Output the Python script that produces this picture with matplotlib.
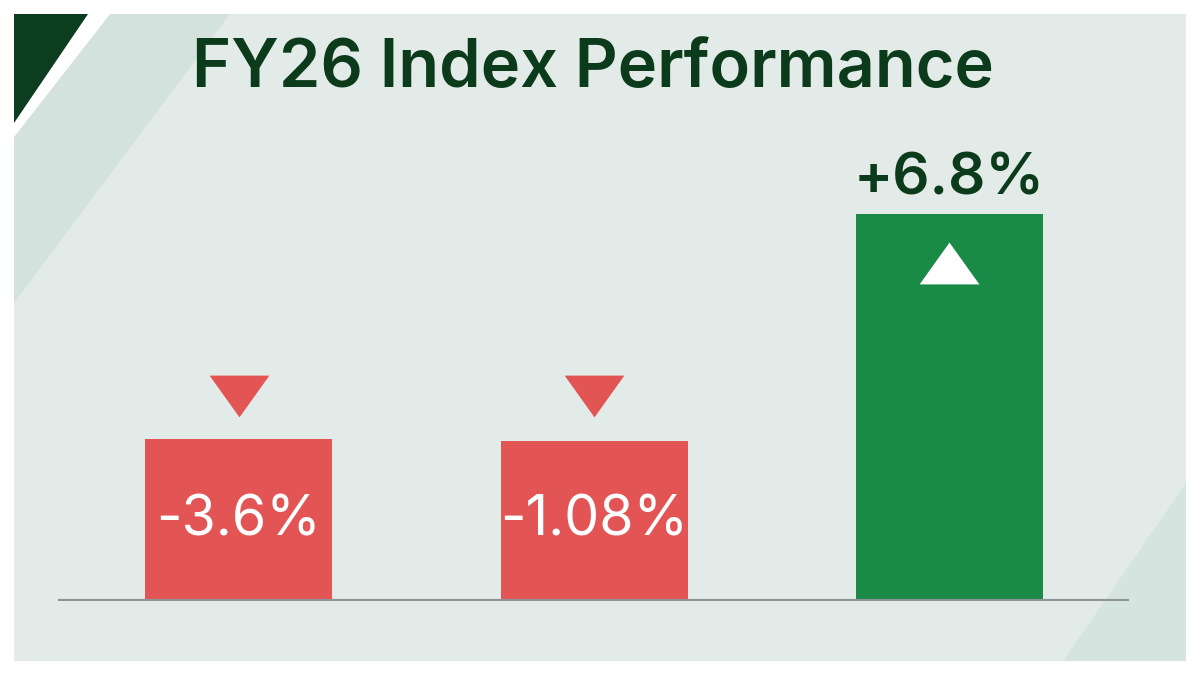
import numpy as np
import matplotlib.pyplot as plt
from matplotlib.patches import Polygon
from matplotlib.path import Path

# data
labels = ["-3.6%", "-1.08%", "+6.8%"]
values = [-3.6, -1.08, 6.8]
bar_heights = [1.62, 1.60, 3.87]   # drawn heights
title = "FY26 Index Performance"

red = "#e35555"
green = "#1a8b46"
dark_green = "#0c3b1c"

W, H = 1200, 675
fig = plt.figure(figsize=(12, 6.75), dpi=100)
fig.patch.set_facecolor("white")


def px(x, y):
    return (x / W, 1 - y / H)


def poly(pts, color, z=0):
    fig.add_artist(Polygon([px(*p) for p in pts], closed=True, transform=fig.transFigure,
                           facecolor=color, edgecolor="none", zorder=z))


# background panel and decorations
poly([(14, 14), (1186, 14), (1186, 661), (14, 661)], "#e3ebe9")
poly([(110, 14), (230, 14), (14, 303), (14, 137)], "#d4e2de")
poly([(1063, 661), (1186, 661), (1186, 483)], "#d6e4df")
poly([(88, 14), (110, 14), (14, 137), (14, 123)], "white")
poly([(14, 14), (88, 14), (14, 123)], "#0b3d1e")

# axes: 100 px per y unit, baseline at y=601
ax = fig.add_axes([58 / W, (H - 601) / H, (1129 - 58) / W, 500 / H])
ax.set_facecolor("none")
x = np.arange(len(values))
ax.set_xlim(-0.508, 2.505)
ax.set_ylim(0, 5)

colors = [red if v < 0 else green for v in values]
ax.bar(x, bar_heights, width=0.526, color=colors, zorder=2)
ax.axhline(0, color="#8e9494", lw=3, zorder=3)

tri_down = Path([(-1, 0.7), (1, 0.7), (0, -0.7), (-1, 0.7)])
tri_up = Path([(-1, -0.7), (1, -0.7), (0, 0.7), (-1, -0.7)])

for i, (v, h, lab) in enumerate(zip(values, bar_heights, labels)):
    if v < 0:
        ax.plot(x[i], 2.05, marker=tri_down, markersize=43, color=red,
                markeredgewidth=0, zorder=4)
        ax.text(x[i], 0.66, lab, ha="center", va="baseline", color="white",
                fontsize=40, family="Inter", zorder=5)
    else:
        ax.plot(x[i], 3.38, marker=tri_up, markersize=43, color="white",
                markeredgewidth=0, zorder=4)
        ax.text(x[i], h + 0.19, lab, ha="center", va="baseline", color=dark_green,
                fontsize=42, family="Inter", fontweight="semibold", zorder=5)

ax.axis("off")

fig.text(593 / W, 1 - 87 / H, title, ha="center", va="baseline", color=dark_green,
         fontsize=48, family="Inter", fontweight="semibold")

fig.savefig("out.png", dpi=100)
